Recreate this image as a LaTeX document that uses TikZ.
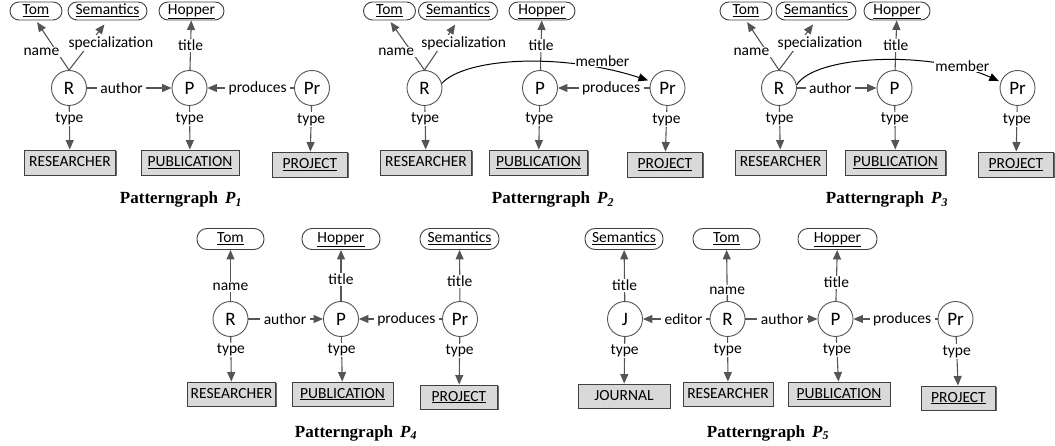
\documentclass[tikz,border=0pt]{standalone}
\usepackage{fontspec}
\setmainfont{Carlito}
\newfontfamily\capfont{Liberation Serif}
\usetikzlibrary{arrows.meta,shadows}
\definecolor{edgegray}{HTML}{555555}
\definecolor{rimgray}{HTML}{404040}
\definecolor{boxgray}{HTML}{D9D9D9}
\tikzset{
  every node/.style={font=\fontsize{15.5}{18}\selectfont},
  ent/.style={circle, draw=edgegray, fill=white, line width=0.9pt, minimum size=35pt, inner sep=0pt,
    font=\fontsize{19}{22}\selectfont},
  lit/.style={rectangle, rounded corners=9pt, draw=rimgray, fill=white, line width=0.9pt,
    minimum height=18pt, inner sep=0pt, text height=10.5pt, text depth=3.5pt},
  litlow/.style={lit, minimum height=21pt, rounded corners=10pt},
  cls/.style={rectangle, draw=rimgray, fill=boxgray, line width=0.9pt, minimum height=25pt,
    inner sep=0pt, text height=10.5pt, text depth=2.5pt,
    drop shadow={shadow xshift=1.3pt, shadow yshift=-1.3pt, fill=black!60, opacity=1}},
  clslow/.style={cls, minimum height=24pt},
  rel/.style={draw=edgegray, line width=1.1pt, -{Triangle[length=9.5pt,width=8pt]}},
  memb/.style={draw=black, line width=1pt, -{Triangle[length=9.5pt,width=8pt]}},
  lbl/.style={fill=white, inner xsep=3.5pt, inner ysep=1pt},
  captext/.style={font=\capfont\bfseries\fontsize{17}{20}\selectfont, anchor=base}
}
\begin{document}
\begin{tikzpicture}[x=1pt, y=-1pt]
\useasboundingbox (0,0) rectangle (1055,446);

% ---------------- Pattern graph P1 ----------------
\node[lit, minimum width=52pt] (tom1) at (36,11) {\underline{Tom}};
\node[lit, minimum width=79pt] (sem1) at (107.5,11) {\underline{Semantics}};
\node[lit, minimum width=65pt] (hop1) at (191.5,11) {\underline{Hopper}};
\node[ent] (r1) at (69,88) {R};
\node[ent] (p1) at (189.5,88) {P};
\node[ent] (pr1) at (312,88) {Pr};
\node[cls, minimum width=91pt] (res1) at (70,162.5) {RESEARCHER};
\node[cls, minimum width=98pt] (pub1) at (190,162.5) {\underline{PUBLICATION}};
\node[cls, minimum width=75pt] (proj1) at (310,164.5) {\underline{PROJECT}};
\draw[rel, shorten >=2pt] (r1.north) -- node[lbl, pos=0.37, anchor=east, xshift=6.5pt] {name} (tom1.south);
\draw[rel, shorten >=5pt] (r1.north) -- node[lbl, pos=0.545, anchor=west, xshift=-25.5pt] {specialization} (sem1.south);
\draw[rel] (p1) -- node[lbl, pos=0.5] {title} (hop1);
\draw[rel] (r1) -- node[lbl, pos=0.41] {author} (p1);
\draw[rel] (pr1) -- node[lbl, pos=0.42] {produces} (p1);
\draw[rel] (r1) -- node[lbl, pos=0.3] {type} (res1);
\draw[rel] (p1) -- node[lbl, pos=0.3] {type} (pub1);
\draw[rel] (pr1) -- node[lbl, pos=0.3] {type} (proj1);
\node[captext] (cap1) at (181,204) {Patterngraph\hspace{7pt}\textit{P\textsubscript{1}}};

% ---------------- Pattern graph P2 ----------------
\node[lit, minimum width=52pt] (tom2) at (389.5,11) {\underline{Tom}};
\node[lit, minimum width=79pt] (sem2) at (458,11) {\underline{Semantics}};
\node[lit, minimum width=66pt] (hop2) at (542,11) {\underline{Hopper}};
\node[ent] (r2) at (424.5,88) {R};
\node[ent] (p2) at (540,88) {P};
\node[ent] (pr2) at (667.5,88) {Pr};
\node[cls, minimum width=91pt] (res2) at (426,162.5) {RESEARCHER};
\node[cls, minimum width=98pt] (pub2) at (538.5,162.5) {\underline{PUBLICATION}};
\node[cls, minimum width=75pt] (proj2) at (665,164.5) {\underline{PROJECT}};
\draw[rel, shorten >=2pt] (r2.north) -- node[lbl, pos=0.37, anchor=east, xshift=6.5pt] {name} (tom2.south);
\draw[rel, shorten >=5pt] (r2.north) -- node[lbl, pos=0.545, anchor=west, xshift=-25.5pt] {specialization} (sem2.south);
\draw[rel] (p2) -- node[lbl, pos=0.5] {title} (hop2);
\draw[rel] (pr2) -- node[lbl, pos=0.42] {produces} (p2);
\draw[memb, shorten >=3pt] (r2.15) .. controls (465,58) and (560,52) .. node[lbl, inner xsep=1pt, pos=0.8, xshift=6pt, yshift=7pt] {member} (pr2.158);
\draw[rel] (r2) -- node[lbl, pos=0.3] {type} (res2);
\draw[rel] (p2) -- node[lbl, pos=0.3] {type} (pub2);
\draw[rel] (pr2) -- node[lbl, pos=0.3] {type} (proj2);
\node[captext] (cap2) at (553,204) {Patterngraph\hspace{7pt}\textit{P\textsubscript{2}}};

% ---------------- Pattern graph P3 ----------------
\node[lit, minimum width=52pt] (tom3) at (746,11) {\underline{Tom}};
\node[lit, minimum width=80pt] (sem3) at (816,11) {\underline{Semantics}};
\node[lit, minimum width=66pt] (hop3) at (897,11) {\underline{Hopper}};
\node[ent] (r3) at (779,88) {R};
\node[ent] (p3) at (894.5,88) {P};
\node[ent] (pr3) at (1017.5,88) {Pr};
\node[cls, minimum width=91pt] (res3) at (780.5,162.5) {RESEARCHER};
\node[cls, minimum width=100pt] (pub3) at (895.5,162.5) {\underline{PUBLICATION}};
\node[cls, minimum width=75pt] (proj3) at (1016,164.5) {\underline{PROJECT}};
\draw[rel, shorten >=2pt] (r3.north) -- node[lbl, pos=0.37, anchor=east, xshift=6.5pt] {name} (tom3.south);
\draw[rel, shorten >=5pt] (r3.north) -- node[lbl, pos=0.545, anchor=west, xshift=-25.5pt] {specialization} (sem3.south);
\draw[rel] (p3) -- node[lbl, pos=0.5] {title} (hop3);
\draw[memb, shorten >=2pt] (r3.10) .. controls (815,55) and (930,50) .. node[lbl, inner xsep=1pt, pos=0.85, xshift=-4pt, yshift=4pt] {member} (pr3.160);
\draw[rel] (r3) -- node[lbl, pos=0.42] {author} (p3);
\draw[rel] (r3) -- node[lbl, pos=0.3] {type} (res3);
\draw[rel] (p3) -- node[lbl, pos=0.3] {type} (pub3);
\draw[rel] (pr3) -- node[lbl, pos=0.3] {type} (proj3);
\node[captext] (cap3) at (887,204) {Patterngraph\hspace{7pt}\textit{P\textsubscript{3}}};

% ---------------- Pattern graph P4 ----------------
\node[litlow, minimum width=67pt] (tom4) at (230.5,239) {\underline{Tom}};
\node[litlow, minimum width=78pt] (hop4) at (341,239) {\underline{Hopper}};
\node[litlow, minimum width=79pt] (sem4) at (459.5,239) {\underline{Semantics}};
\node[ent] (r4) at (230.5,319) {R};
\node[ent] (p4) at (341,319) {P};
\node[ent] (pr4) at (460,319) {Pr};
\node[clslow, minimum width=88pt] (res4) at (231.5,394) {RESEARCHER};
\node[clslow, minimum width=101pt] (pub4) at (342.5,394) {\underline{PUBLICATION}};
\node[clslow, minimum width=77pt] (proj4) at (459,397) {\underline{PROJECT}};
\draw[rel] (r4) -- node[lbl, pos=0.27] {name} (tom4);
\draw[rel] (p4) -- node[lbl, pos=0.42] {title} (hop4);
\draw[rel] (pr4) -- node[lbl, pos=0.38] {title} (sem4);
\draw[rel] (r4) -- node[lbl, pos=0.49] {author} (p4);
\draw[rel] (pr4) -- node[lbl, pos=0.43] {produces} (p4);
\draw[rel] (r4) -- node[lbl, pos=0.3] {type} (res4);
\draw[rel] (p4) -- node[lbl, pos=0.3] {type} (pub4);
\draw[rel] (pr4) -- node[lbl, pos=0.3] {type} (proj4);
\node[captext] (cap4) at (356,437) {Patterngraph\hspace{7pt}\textit{P\textsubscript{4}}};

% ---------------- Pattern graph P5 ----------------
\node[litlow, minimum width=78pt] (sem5) at (624,239) {\underline{Semantics}};
\node[litlow, minimum width=67pt] (tom5) at (726.5,239) {\underline{Tom}};
\node[litlow, minimum width=79pt] (hop5) at (837.5,239) {\underline{Hopper}};
\node[ent] (j5) at (625,319) {J};
\node[ent] (r5) at (727.5,319) {R};
\node[ent] (p5) at (835.5,319) {P};
\node[ent] (pr5) at (955.5,319) {Pr};
\node[clslow, minimum width=92pt] (jour5) at (624,396) {JOURNAL};
\node[clslow, minimum width=90pt] (res5) at (728,394) {RESEARCHER};
\node[clslow, minimum width=102pt] (pub5) at (839,394) {\underline{PUBLICATION}};
\node[clslow, minimum width=74pt] (proj5) at (958.5,398) {\underline{PROJECT}};
\draw[rel] (j5) -- node[lbl, pos=0.31] {title} (sem5);
\draw[rel] (r5) -- node[lbl, pos=0.21] {name} (tom5);
\draw[rel] (p5) -- node[lbl, pos=0.37] {title} (hop5);
\draw[rel] (r5) -- node[lbl, pos=0.39] {editor} (j5);
\draw[rel] (r5) -- node[lbl, pos=0.51] {author} (p5);
\draw[rel] (pr5) -- node[lbl, pos=0.42] {produces} (p5);
\draw[rel] (j5) -- node[lbl, pos=0.3] {type} (jour5);
\draw[rel] (r5) -- node[lbl, pos=0.3] {type} (res5);
\draw[rel] (p5) -- node[lbl, pos=0.3] {type} (pub5);
\draw[rel] (pr5) -- node[lbl, pos=0.3] {type} (proj5);
\node[captext] (cap5) at (768,437) {Patterngraph\hspace{7pt}\textit{P\textsubscript{5}}};
\end{tikzpicture}
\end{document}
